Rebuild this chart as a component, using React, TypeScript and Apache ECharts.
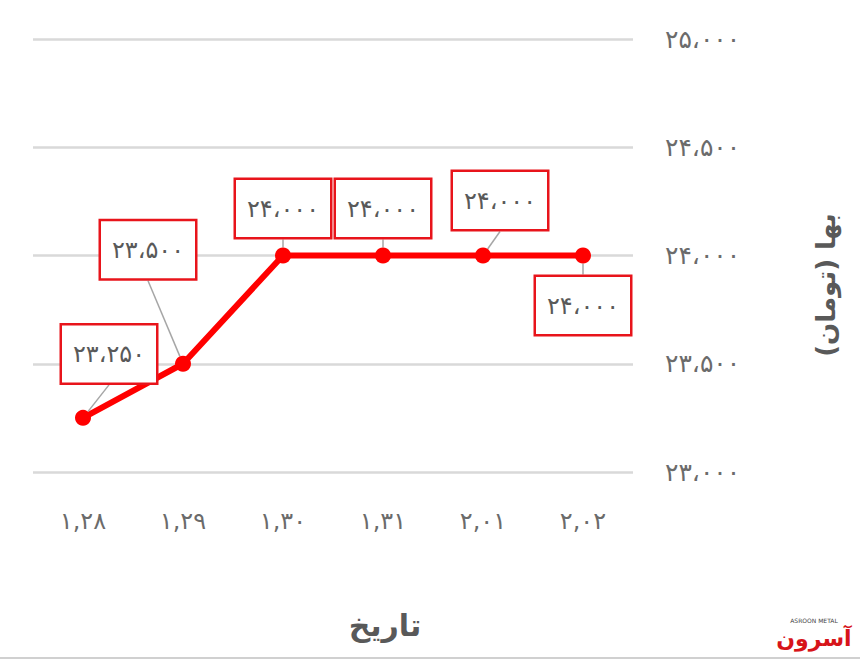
import React, { useEffect, useRef } from "react";
import * as echarts from "echarts";

const categories = ["۱,۲۸", "۱,۲۹", "۱,۳۰", "۱,۳۱", "۲,۰۱", "۲,۰۲"];
const prices = [23250, 23500, 24000, 24000, 24000, 24000];
const yTickValues = [23000, 23500, 24000, 24500, 25000];
const yTickLabels = ["۲۳،۰۰۰", "۲۳،۵۰۰", "۲۴،۰۰۰", "۲۴،۵۰۰", "۲۵،۰۰۰"];
const xAxisTitle = "تاریخ";
const yAxisTitle = "\u200Fبها (تومان)\u200F";

const faDigits = "۰۱۲۳۴۵۶۷۸۹";
function toFa(n: number): string {
  const s = n.toString().replace(/\B(?=(\d{3})+(?!\d))/g, "،");
  return s.replace(/\d/g, (d) => faDigits[Number(d)]);
}

// label offsets (dx, dy) relative to each point
const labelShift: [number, number][] = [
  [26, -64],
  [-35, -114],
  [0, -47],
  [0, -47],
  [17, -55],
  [0, 50],
];

export default function App() {
  const ref = useRef<HTMLDivElement>(null);
  useEffect(() => {
    if (!ref.current) return;
    const chart = echarts.init(ref.current, undefined, { renderer: "svg" });
    const font = "'DejaVu Sans', 'Noto Sans', sans-serif";
    chart.setOption({
      animation: false,
      backgroundColor: "#ffffff",
      grid: { left: 33, top: 39, width: 600, height: 433 },
      xAxis: {
        type: "category",
        data: categories,
        boundaryGap: true,
        axisLine: { show: false },
        axisTick: { show: false },
        axisLabel: { color: "#6b6b6b", fontSize: 24, fontFamily: font, margin: 37 },
      },
      yAxis: {
        type: "value",
        position: "right",
        min: 23000,
        max: 25000,
        interval: 500,
        axisLine: { show: false },
        axisTick: { show: false },
        splitLine: { lineStyle: { color: "#d9d9d9", width: 2.5 } },
        axisLabel: {
          color: "#6b6b6b",
          fontSize: 25,
          fontFamily: font,
          margin: 32,
          formatter: (v: number) => {
            const i = yTickValues.indexOf(v);
            return i >= 0 ? yTickLabels[i] : toFa(v);
          },
        },
      },
      series: [
        {
          type: "line",
          data: prices,
          lineStyle: { color: "#ff0000", width: 6 },
          itemStyle: { color: "#ff0000" },
          symbol: "circle",
          symbolSize: 16,
          z: 3,
          label: {
            show: true,
            position: "inside",
            formatter: (p: any) => toFa(p.value),
            color: "#595959",
            fontSize: 24,
            fontFamily: font,
            backgroundColor: "#ffffff",
            borderColor: "#e8141b",
            borderWidth: 2.5,
            width: 74,
            height: 29,
            lineHeight: 29,
            padding: [14, 10],
            align: "center",
            verticalAlign: "middle",
          },
          labelLine: {
            show: true,
            lineStyle: { color: "#a6a6a6", width: 1.5 },
          },
          labelLayout: (params: any) => {
            const s = labelShift[params.dataIndex] || [0, 0];
            return { dx: s[0], dy: s[1] };
          },
        },
      ],
      graphic: [
        {
          type: "text",
          x: 385,
          y: 625,
          style: {
            text: xAxisTitle,
            fill: "#595959",
            font: `bold 30px ${font}`,
            align: "center",
            verticalAlign: "middle",
          },
        },
        {
          type: "text",
          x: 826,
          y: 285,
          rotation: Math.PI / 2,
          style: {
            text: yAxisTitle,
            fill: "#595959",
            font: `bold 26px ${font}`,
            align: "center",
            verticalAlign: "middle",
          },
        },
        {
          type: "text",
          x: 814,
          y: 620,
          style: {
            text: "ASROON METAL",
            fill: "#444444",
            font: `6px ${font}`,
            align: "center",
            verticalAlign: "middle",
          },
        },
        {
          type: "text",
          x: 814,
          y: 638,
          style: {
            text: "آسرون",
            fill: "#d7141a",
            font: `bold 22px ${font}`,
            align: "center",
            verticalAlign: "middle",
          },
        },
        {
          type: "line",
          shape: { x1: 0, y1: 658, x2: 860, y2: 658 },
          style: { stroke: "#d0d0d0", lineWidth: 2 },
        },
      ],
    });
    return () => chart.dispose();
  }, []);
  return (
    <div
      ref={ref}
      style={{ position: "fixed", left: 0, top: 0, width: 860, height: 660 }}
    />
  );
}
